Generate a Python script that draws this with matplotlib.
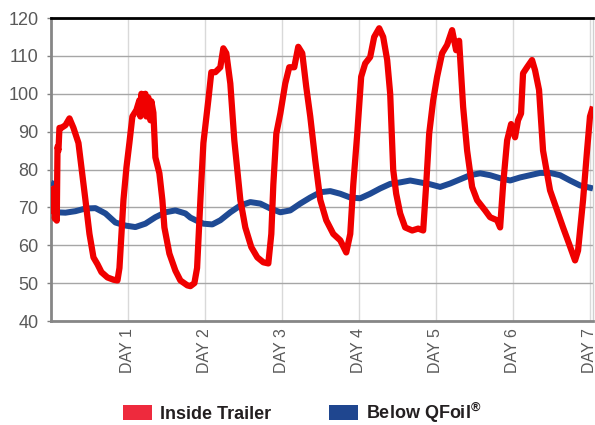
import matplotlib
matplotlib.use("Agg")
import matplotlib.pyplot as plt
from matplotlib.patches import Patch

# Dane (dzien, temperatura F)
inside_day = [0.00, 0.02, 0.035, 0.05, 0.065, 0.075, 0.085, 0.097, 0.11, 0.136, 0.188, 0.240,
              0.292, 0.357, 0.396, 0.448, 0.500, 0.552, 0.604, 0.656, 0.734, 0.812, 0.864,
              0.890, 0.916, 0.942, 0.981, 1.019, 1.058, 1.110, 1.149, 1.162, 1.175, 1.201,
              1.227, 1.240, 1.266, 1.292, 1.305, 1.331, 1.357, 1.409, 1.448, 1.474, 1.539,
              1.617, 1.682, 1.773, 1.812, 1.864, 1.899, 1.942, 1.981, 2.045, 2.084, 2.136,
              2.201, 2.240, 2.279, 2.331, 2.383, 2.461, 2.526, 2.604, 2.682, 2.760, 2.825,
              2.864, 2.890, 2.929, 2.981, 3.045, 3.097, 3.162, 3.214, 3.266, 3.318, 3.370,
              3.435, 3.500, 3.578, 3.669, 3.760, 3.838, 3.890, 3.929, 3.981, 4.032, 4.084,
              4.149, 4.201, 4.266, 4.318, 4.370, 4.409, 4.448, 4.487, 4.539, 4.604, 4.695,
              4.773, 4.838, 4.877, 4.916, 4.968, 5.019, 5.084, 5.149, 5.214, 5.266, 5.305,
              5.357, 5.409, 5.474, 5.539, 5.643, 5.708, 5.799, 5.838, 5.877, 5.929, 5.981,
              6.032, 6.071, 6.110, 6.136, 6.188, 6.253, 6.292, 6.344, 6.396, 6.487, 6.578,
              6.656, 6.734, 6.812, 6.851, 6.916, 6.968, 7.006, 7.045]
inside_temp = [74.5, 69, 75, 67, 70, 66.5, 86, 85, 91, 91, 91.7, 93.5,
               91, 87, 80.6, 71.9, 63, 56.8, 55, 52.9, 51.5, 50.9, 50.7,
               54, 63, 72, 80.6, 87, 94, 95.7, 98.3, 94, 100, 96,
               100, 94, 99, 93, 98, 95, 83.2, 79, 71.9, 64.7, 57.8,
               53.3, 50.7, 49.4, 49.2, 50, 54, 72, 87, 98.3, 105.7, 105.7,
               107, 112, 110.7, 102.7, 87.7, 72, 64.7, 59.5, 56.8, 55.5, 55.2,
               63, 76, 89.5, 94.8, 102.7, 107, 107, 112.4, 110.7, 101.8, 94,
               82.4, 72, 66.6, 63, 61.3, 58.1, 63, 76, 89.5, 104.5, 108,
               109.7, 115, 117.3, 115, 108.9, 100, 80, 73.6, 68.4, 64.7, 63.9,
               64.4, 63.9, 76, 89.5, 98.3, 104.5, 110.7, 112.9, 116.8, 111.5, 114,
               96.6, 85, 75.4, 71.9, 69.2, 67.4, 66.6, 64.7, 76, 87.7, 92,
               88.5, 93, 94.8, 105.4, 107, 108.9, 106.2, 101, 85, 74.5, 69.2,
               64.7, 60.4, 56, 58.6, 71.9, 85, 94, 96.6]

below_day = [0.00, 0.06, 0.075, 0.188, 0.318, 0.448, 0.578, 0.708, 0.838, 0.968, 1.097,
             1.227, 1.357, 1.487, 1.617, 1.747, 1.812, 1.903, 1.981, 2.097, 2.201, 2.331,
             2.461, 2.591, 2.721, 2.851, 2.981, 3.110, 3.240, 3.370, 3.500, 3.630, 3.760,
             3.890, 4.019, 4.149, 4.279, 4.409, 4.539, 4.669, 4.799, 4.929, 5.058, 5.188,
             5.318, 5.448, 5.578, 5.708, 5.838, 5.968, 6.097, 6.227, 6.357, 6.487, 6.617,
             6.747, 6.877, 7.045]
below_temp = [76.5, 76, 68.7, 68.6, 69, 69.7, 69.8, 68.4, 66, 65.2, 64.8,
              65.7, 67.4, 68.7, 69.2, 68.4, 67.3, 66.4, 65.7, 65.5, 66.6, 68.7,
              70.5, 71.4, 71, 69.7, 68.7, 69.2, 71, 72.6, 74, 74.3, 73.6,
              72.6, 72.4, 73.6, 75, 76.2, 76.6, 77.1, 76.6, 76.1, 75.4, 76.3,
              77.4, 78.5, 79, 78.5, 77.7, 77.1, 77.9, 78.5, 79.1, 79.1, 78.5,
              77.1, 75.8, 75]

days = [1, 2, 3, 4, 5, 6, 7]
day_labels = ["DAY 1", "DAY 2", "DAY 3", "DAY 4", "DAY 5", "DAY 6", "DAY 7"]
y_ticks = [40, 50, 60, 70, 80, 90, 100, 110, 120]
series_names = ["Inside Trailer", "Below QFoil$^{\\mathregular{\u00ae}}$"]

plt.rcParams["font.family"] = ["Liberation Sans", "DejaVu Sans"]
plt.rcParams["mathtext.default"] = "regular"

fig = plt.figure(figsize=(5.95, 4.25), dpi=100)
ax = fig.add_axes([0.0857, 0.2447, 0.9109, 0.7129])

ax.plot(below_day, below_temp, color="#1f4a94", lw=4.3, solid_joinstyle="round",
        solid_capstyle="butt", zorder=3)
ax.plot(inside_day, inside_temp, color="#f00000", lw=4.5, solid_joinstyle="round",
        solid_capstyle="butt", zorder=4)

ax.set_xlim(0, 7.045)
ax.set_ylim(40, 120)

# siatka
ax.set_yticks(y_ticks)
ax.set_xticks(days)
ax.set_xticklabels(day_labels, rotation=90, fontsize=11.5, color="#595959", va="top")
ax.yaxis.grid(True, color="#a6a6a6", lw=1.0)
ax.xaxis.grid(True, color="#d9d9d9", lw=1.0)
ax.set_axisbelow(True)

ax.tick_params(axis="x", length=0, pad=5)
ax.tick_params(axis="y", length=3, width=1, color="#808080", pad=6,
               labelsize=13, labelcolor="#595959")

ax.spines["top"].set_color("black")
ax.spines["top"].set_linewidth(2)
ax.spines["left"].set_color("#868686")
ax.spines["left"].set_linewidth(2)
ax.spines["bottom"].set_color("#868686")
ax.spines["bottom"].set_linewidth(2)
ax.spines["right"].set_color("#d0d0d0")
ax.spines["right"].set_linewidth(1)

# legenda
handles = [Patch(facecolor="#ee2a3d", edgecolor="none"),
           Patch(facecolor="#1f468f", edgecolor="none")]
leg = fig.legend(handles, series_names, loc="center", bbox_to_anchor=(0.508, 0.028),
                 ncol=2, frameon=False, handlelength=1.6, handleheight=0.9,
                 handletextpad=0.45, columnspacing=3.2,
                 prop={"weight": "bold", "size": 13})
for t in leg.get_texts():
    t.set_color("#231f20")

fig.savefig("out.png", dpi=100)
